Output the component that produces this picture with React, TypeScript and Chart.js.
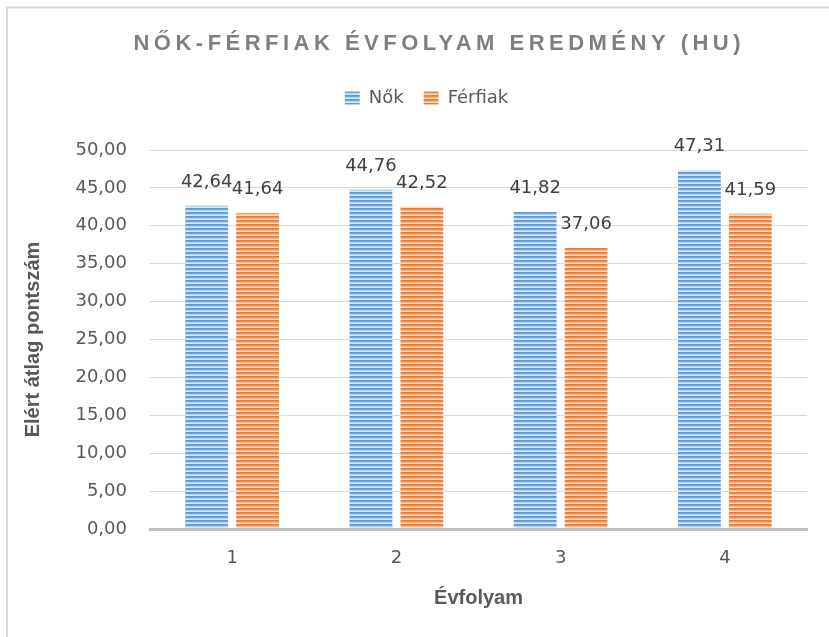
import React, { useEffect, useRef } from 'react';
import { Chart, registerables } from 'chart.js';

Chart.register(...registerables);

// ---- data ----
const categories = ['1', '2', '3', '4'];
const seriesNames = ['Nők', 'Férfiak'];
const nokValues = [42.64, 44.76, 41.82, 47.31];
const ferfiakValues = [41.64, 42.52, 37.06, 41.59];
const yMin = 0;
const yMax = 50;
const yStep = 5;
const chartTitle = 'NŐK-FÉRFIAK ÉVFOLYAM EREDMÉNY (HU)';
const xAxisTitle = 'Évfolyam';
const yAxisTitle = 'Elért átlag pontszám';

const fmt = (v: number) => Number(v).toFixed(2).replace('.', ',');

function stripePattern(rows: string[]): CanvasPattern | string {
  const c = document.createElement('canvas');
  c.width = 4;
  c.height = rows.length;
  const g = c.getContext('2d');
  if (!g) return rows[0];
  rows.forEach((col, i) => {
    g.fillStyle = col;
    g.fillRect(0, i, 4, 1);
  });
  return g.createPattern(c, 'repeat') || rows[0];
}

const SANS = 'DejaVu Sans';
const TITLE_FONT = '"Liberation Sans", Arial, sans-serif';
const ARIAL = '"Liberation Sans", Arial, sans-serif';

export default function App() {
  const ref = useRef<HTMLCanvasElement | null>(null);

  useEffect(() => {
    const canvas = ref.current;
    if (!canvas) return;

    const bluePat = stripePattern(['#5b9bd5', '#6aa6dd', '#b7d4f0', '#d9e8f7']);
    const orangePat = stripePattern(['#ed7d31', '#f08a43', '#f7bb91', '#fcdcc6']);

    const framePlugin = {
      id: 'frame',
      beforeDraw(chart: any) {
        const ctx = chart.ctx;
        ctx.save();
        ctx.fillStyle = '#ffffff';
        ctx.fillRect(0, 0, chart.width, chart.height);
        ctx.strokeStyle = '#d9d9d9';
        ctx.lineWidth = 2;
        ctx.strokeRect(7, 7.5, chart.width + 50, chart.height + 50);
        ctx.restore();
      },
    };

    const shiftPlugin = {
      id: 'shiftBoxes',
      beforeDraw(chart: any) {
        const tb = chart.titleBlock;
        if (tb && !tb.__wrapped) {
          const orig = tb.draw.bind(tb);
          tb.draw = (...args: any[]) => {
            const ctx = chart.ctx;
            ctx.save();
            ctx.font = 'bold 22px ' + TITLE_FONT;
            const w0 = ctx.measureText(chartTitle).width;
            const n = Array.from(chartTitle).length;
            const target = 607;
            const s = Math.max(0, (target - w0) / (n - 1));
            (ctx as any).letterSpacing = s + 'px';
            ctx.translate(33.5 + s / 2, 0);
            orig(...args);
            (ctx as any).letterSpacing = '0px';
            ctx.restore();
          };
          tb.__wrapped = true;
        }
        const lg = chart.legend;
        if (lg && !lg.__wrapped) {
          const orig = lg.draw.bind(lg);
          lg.draw = (...args: any[]) => {
            const ctx = chart.ctx;
            ctx.save();
            ctx.translate(23, -33);
            orig(...args);
            ctx.restore();
          };
          lg.__wrapped = true;
        }
      },
    };

    const labelPlugin = {
      id: 'dataLabels',
      afterDatasetsDraw(chart: any) {
        const ctx = chart.ctx;
        ctx.save();
        ctx.font = '18px ' + SANS;
        ctx.fillStyle = '#404040';
        ctx.textAlign = 'center';
        ctx.textBaseline = 'alphabetic';
        chart.data.datasets.forEach((ds: any, i: number) => {
          const meta = chart.getDatasetMeta(i);
          meta.data.forEach((el: any, j: number) => {
            ctx.fillText(fmt(ds.data[j]), el.x, el.y - 19);
          });
        });
        ctx.restore();
      },
    };

    const chart = new Chart(canvas, {
      type: 'bar',
      data: {
        labels: categories,
        datasets: [
          {
            label: seriesNames[0],
            data: nokValues,
            backgroundColor: bluePat as any,
            borderWidth: 0,
            categoryPercentage: 0.62,
            barPercentage: 0.84,
          },
          {
            label: seriesNames[1],
            data: ferfiakValues,
            backgroundColor: orangePat as any,
            borderWidth: 0,
            categoryPercentage: 0.62,
            barPercentage: 0.84,
          },
        ],
      },
      options: {
        responsive: false,
        animation: false,
        devicePixelRatio: 1,
        events: [],
        layout: { padding: { left: 0, right: 22, top: 0, bottom: 0 } },
        plugins: {
          tooltip: { enabled: false },
          title: {
            display: true,
            text: chartTitle,
            color: '#7f7f7f',
            font: { family: TITLE_FONT, size: 22, weight: 'bold', lineHeight: 1.2 },
            padding: { top: 30.8, bottom: 44.8 },
          },
          legend: {
            display: true,
            position: 'top',
            labels: {
              boxWidth: 15,
              boxHeight: 13,
              padding: 20,
              color: '#595959',
              font: { family: SANS, size: 18 },
            },
          },
        },
        scales: {
          x: {
            grid: { display: false, drawTicks: false },
            border: { display: true, color: '#bfbfbf', width: 3, z: 1 },
            ticks: {
              color: '#595959',
              font: { family: SANS, size: 18 },
              padding: 19,
            },
            title: {
              display: true,
              text: xAxisTitle,
              color: '#595959',
              font: { family: ARIAL, size: 20, weight: 'bold', lineHeight: 1.2 },
              padding: { top: 0, bottom: 27 },
            },
            afterFit: (s: any) => {
              s.height = 108;
            },
          },
          y: {
            min: yMin,
            max: yMax,
            grid: { color: '#d9d9d9', lineWidth: 1, drawTicks: false },
            border: { display: false },
            ticks: {
              stepSize: yStep,
              color: '#595959',
              font: { family: SANS, size: 18 },
              padding: 23,
              callback: (v: any) => fmt(Number(v)),
            },
            title: {
              display: true,
              text: yAxisTitle,
              color: '#595959',
              font: { family: ARIAL, size: 20, weight: 'bold', lineHeight: 1.2 },
              padding: { top: 21, bottom: 0 },
            },
            afterFit: (s: any) => {
              s.width = 150;
            },
          },
        },
      } as any,
      plugins: [framePlugin, shiftPlugin, labelPlugin],
    });

    return () => {
      chart.destroy();
    };
  }, []);

  return (
    <div
      style={{
        position: 'fixed',
        left: 0,
        top: 0,
        width: 829,
        height: 637,
        overflow: 'hidden',
        background: '#ffffff',
      }}
    >
      <canvas ref={ref} width={829} height={637} style={{ width: 829, height: 637, display: 'block' }} />
    </div>
  );
}
